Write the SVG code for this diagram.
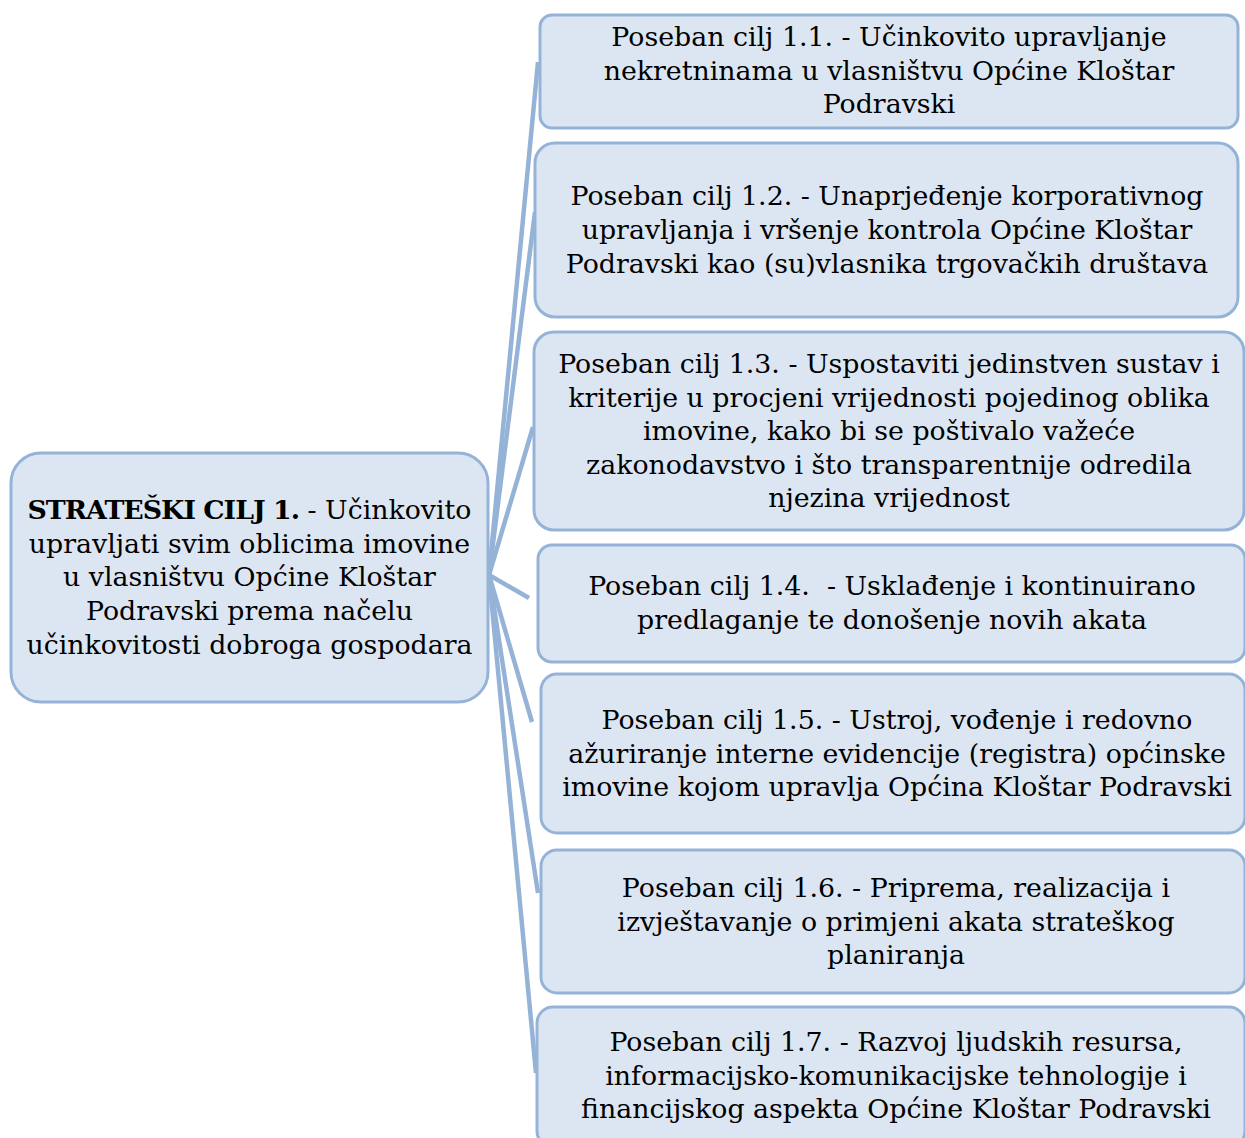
<svg xmlns="http://www.w3.org/2000/svg" width="1245" height="1138" viewBox="0 0 1245 1138">
<style>
.box{fill:#dce6f2;stroke:#95b3d7;stroke-width:3}
.t{font-family:"DejaVu Serif","Liberation Serif",serif;font-size:26.8px;fill:#000;text-anchor:middle}
.b{font-weight:bold;letter-spacing:-1px}
.c{stroke:#95b3d7;stroke-width:4.5;fill:none;stroke-linecap:butt}
</style>
<rect width="1245" height="1138" fill="#ffffff"/>
<g id="connectors">
<line class="c" x1="489" y1="575" x2="538" y2="62"/>
<line class="c" x1="489" y1="575" x2="535" y2="212"/>
<line class="c" x1="489" y1="575" x2="533" y2="427"/>
<line class="c" x1="489" y1="575" x2="529" y2="598"/>
<line class="c" x1="489" y1="575" x2="532" y2="722"/>
<line class="c" x1="489" y1="575" x2="538" y2="893"/>
<line class="c" x1="489" y1="575" x2="536" y2="1073"/>
</g>
<g id="root">
<rect class="box" x="11" y="453" width="477" height="249" rx="30"/>
<text class="t" x="249.5" y="519"><tspan class="b">STRATEŠKI CILJ 1.</tspan> - Učinkovito</text>
<text class="t" x="249.5" y="553">upravljati svim oblicima imovine</text>
<text class="t" x="249.5" y="586">u vlasništvu Općine Kloštar</text>
<text class="t" x="249.5" y="620">Podravski prema načelu</text>
<text class="t" x="249.5" y="654">učinkovitosti dobroga gospodara</text>
</g>
<g id="n11">
<rect class="box" x="540" y="15" width="698" height="113" rx="12"/>
<text class="t" x="889" y="46">Poseban cilj 1.1. - Učinkovito upravljanje</text>
<text class="t" x="889" y="80">nekretninama u vlasništvu Općine Kloštar</text>
<text class="t" x="889" y="113">Podravski</text>
</g>
<g id="n12">
<rect class="box" x="535" y="143" width="703" height="174" rx="20"/>
<text class="t" x="887" y="205">Poseban cilj 1.2. - Unaprjeđenje korporativnog</text>
<text class="t" x="887" y="239">upravljanja i vršenje kontrola Općine Kloštar</text>
<text class="t" x="887" y="273">Podravski kao (su)vlasnika trgovačkih društava</text>
</g>
<g id="n13">
<rect class="box" x="534" y="332" width="710" height="198" rx="20"/>
<text class="t" x="889" y="373">Poseban cilj 1.3. - Uspostaviti jedinstven sustav i</text>
<text class="t" x="889" y="407">kriterije u procjeni vrijednosti pojedinog oblika</text>
<text class="t" x="889" y="440">imovine, kako bi se poštivalo važeće</text>
<text class="t" x="889" y="474">zakonodavstvo i što transparentnije odredila</text>
<text class="t" x="889" y="507">njezina vrijednost</text>
</g>
<g id="n14">
<rect class="box" x="538" y="545" width="707" height="117" rx="14"/>
<text class="t" x="892" y="595" xml:space="preserve">Poseban cilj 1.4.  - Usklađenje i kontinuirano</text>
<text class="t" x="892" y="629">predlaganje te donošenje novih akata</text>
</g>
<g id="n15">
<rect class="box" x="541" y="674" width="704" height="159" rx="16"/>
<text class="t" x="897" y="729">Poseban cilj 1.5. - Ustroj, vođenje i redovno</text>
<text class="t" x="897" y="763">ažuriranje interne evidencije (registra) općinske</text>
<text class="t" x="897" y="796">imovine kojom upravlja Općina Kloštar Podravski</text>
</g>
<g id="n16">
<rect class="box" x="541" y="850" width="704" height="143" rx="16"/>
<text class="t" x="896" y="897">Poseban cilj 1.6. - Priprema, realizacija i</text>
<text class="t" x="896" y="931">izvještavanje o primjeni akata strateškog</text>
<text class="t" x="896" y="964">planiranja</text>
</g>
<g id="n17">
<rect class="box" x="537" y="1007" width="708" height="140" rx="16"/>
<text class="t" x="896" y="1051">Poseban cilj 1.7. - Razvoj ljudskih resursa,</text>
<text class="t" x="896" y="1085">informacijsko-komunikacijske tehnologije i</text>
<text class="t" x="896" y="1118">financijskog aspekta Općine Kloštar Podravski</text>
</g>
</svg>
